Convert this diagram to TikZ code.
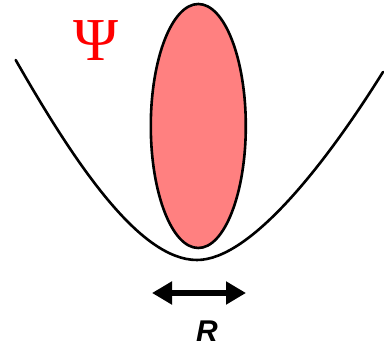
\documentclass[tikz,border=0pt]{standalone}
\usepackage{fontspec}
\setmainfont{Liberation Serif}
\newfontfamily\arialfont{Liberation Sans}
\usetikzlibrary{shapes.geometric,arrows.meta}
\definecolor{blob}{RGB}{255,128,128}
\tikzset{
  curveline/.style={line width=2.6pt,line cap=round},
  blobstyle/.style={ellipse,draw=black,line width=2.6pt,fill=blob,minimum width=95pt,minimum height=244pt,inner sep=0pt},
  dblarrow/.style={line width=6pt,{Triangle[length=20pt,width=22pt]}-{Triangle[length=20pt,width=22pt]}}
}
\begin{document}
\begin{tikzpicture}[x=1pt,y=-1pt]
\useasboundingbox (0,0) rectangle (384,347);
\coordinate (cl) at (15.7,60);
\coordinate (cm) at (197,260);
\coordinate (cr) at (383,72);
\draw[curveline] (cl) .. controls (75.7,165) and (140,260) .. (cm)
                      .. controls (250,260) and (325,165) .. (cr);
\node[blobstyle] (blob) at (198.3,126) {};
\node[text=red,font=\fontsize{61}{61}\selectfont,inner sep=0pt] (psi) at (96,41) {Ψ};
\coordinate (al) at (152,293);
\coordinate (ar) at (246,293);
\draw[dblarrow] (al) -- (ar);
\node[font=\arialfont\bfseries\itshape\fontsize{30}{30}\selectfont,inner sep=0pt] (R) at (207,331) {R};
\end{tikzpicture}
\end{document}
